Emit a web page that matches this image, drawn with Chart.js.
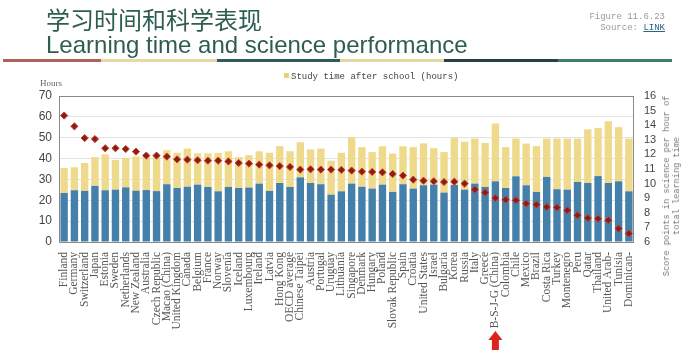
<!DOCTYPE html>
<html>
<head>
<meta charset="utf-8">
<script src="https://cdn.jsdelivr.net/npm/chart.js@4.4.1/dist/chart.umd.min.js"></script>
<style>
  html, body { margin:0; padding:0; background:#ffffff; }
  #wrap { position:relative; width:700px; height:357px; overflow:hidden; }
  #c { position:absolute; left:0; top:0; }
  .abs { position:absolute; white-space:nowrap; }
  #cn { left:46px; top:7px; font:24px/24px "Noto Sans CJK SC", sans-serif; color:#2f5d52; }
  #en { left:46px; top:33px; font:24px/24px "Liberation Sans", Arial, sans-serif; color:#2f5d52; }
  #fig { right:35px; top:12px; font:9px/11px "Liberation Mono", monospace; color:#9a9a9a; text-align:right; }
  #fig .lk { color:#2b6584; text-decoration:underline; }
  #rule { left:3px; top:59px; width:669px; height:3px; display:flex; }
  #rule span { display:block; height:3px; }
  #hours { left:40px; top:78px; font:9px/10px "Liberation Serif", serif; color:#666; }
  #leg { left:284px; top:72px; font:9px/11px "Liberation Mono", monospace; color:#444; }
  #leg i { display:inline-block; width:5px; height:5px; background:#e9d27a; margin-right:2px; vertical-align:1px; }
  #rtitle { left:672px; top:186px; width:0; height:0; }
  #rtitle div { position:absolute; left:0; top:0; transform:translate(-50%,-50%) rotate(-90deg); font:8.6px/10px "Liberation Mono", monospace; color:#777; text-align:center; white-space:nowrap; }
</style>
</head>
<body>
<div id="wrap">
  <canvas id="c" width="700" height="357"></canvas>
  <div class="abs" id="cn">学习时间和科学表现</div>
  <div class="abs" id="en">Learning time and science performance</div>
  <div class="abs" id="fig">Figure 11.6.23<br>Source: <span class="lk">LINK</span></div>
  <div class="abs" id="rule">
    <span style="width:98px;background:#b0615a"></span>
    <span style="width:116px;background:#e6d9a6"></span>
    <span style="width:123px;background:#2f5b5c"></span>
    <span style="width:104px;background:#e4d7a2"></span>
    <span style="width:114px;background:#263f48"></span>
    <span style="width:114px;background:#3f7d6c"></span>
  </div>
  <div class="abs" id="hours">Hours</div>
  <div class="abs" id="leg"><i></i>Study time after school (hours)</div>
  <div class="abs" id="rtitle"><div>Score points in science per hour of<br>total learning time</div></div>
</div>
<script>
const countries = ["Finland","Germany","Switzerland","Japan","Estonia","Sweden","Netherlands","New Zealand","Australia","Czech Republic","Macao (China)","United Kingdom","Canada","Belgium","France","Norway","Slovenia","Iceland","Luxembourg","Ireland","Latvia","Hong Kong","OECD average","Chinese Taipei","Austria","Portugal","Uruguay","Lithuania","Singapore","Denmark","Hungary","Poland","Slovak Republic","Spain","Croatia","United States","Israel","Bulgaria","Korea","Russia","Italy","Greece","B-S-J-G (China)","Colombia","Chile","Mexico","Brazil","Costa Rica","Turkey","Montenegro","Peru","Qatar","Thailand","United Arab-","Tunisia","Dominican-"];

// hours of learning at school (blue part of each bar)
const schoolTime = [23.5,24.8,24.5,26.9,24.8,25.1,26.2,24.6,24.9,24.4,27.7,25.9,26.5,27.5,26.4,24.3,26.4,25.9,26.1,28.0,24.5,28.3,26.4,31.0,28.3,27.7,22.7,24.3,28.0,26.5,25.6,27.5,24.0,27.7,25.6,27.2,27.5,23.7,27.3,25.1,28.0,26.4,29.1,25.9,31.5,27.2,24.0,31.2,25.3,25.1,28.8,28.3,31.6,28.3,29.1,24.3];

// study time after school (yellow part of each bar)
const afterSchool = [12.0,11.0,13.4,13.8,17.2,14.2,14.1,16.4,16.1,16.8,16.3,16.9,18.3,15.0,16.1,18.4,17.1,14.8,15.5,15.5,18.3,17.7,17.1,16.8,16.1,17.1,16.3,18.5,22.3,19.0,17.5,18.4,18.4,18.2,19.9,20.1,17.5,19.4,22.6,23.0,21.6,21.1,27.7,19.6,18.1,20.0,22.0,18.4,24.3,24.5,20.8,25.7,23.1,29.6,26.0,25.3];

// score points in science per hour of total learning time (right axis)
const scorePerHour = [14.66,13.92,13.12,13.05,12.42,12.42,12.37,12.19,11.92,11.92,11.85,11.66,11.64,11.60,11.57,11.57,11.52,11.41,11.37,11.30,11.25,11.20,11.14,10.96,10.98,10.96,10.96,10.94,10.89,10.82,10.80,10.77,10.66,10.55,10.27,10.20,10.16,10.11,10.13,10.00,9.59,9.38,9.01,8.90,8.86,8.63,8.56,8.40,8.36,8.17,7.83,7.64,7.60,7.49,6.92,6.58];

const leftTicks = [0,10,20,30,40,50,60,70];
const rightTicks = [6,7,8,9,10,11,12,13,14,15,16];
const highlighted = "B-S-J-G (China)";

const framePlugin = {
  id: 'frame',
  afterDatasetsDraw(chart) {
    const a = chart.chartArea, c = chart.ctx;
    c.save();
    c.strokeStyle = '#8a8a8a';
    c.lineWidth = 1;
    c.strokeRect(Math.round(a.left)+0.5, Math.round(a.top)+0.5, Math.round(a.right-a.left)-1, Math.round(a.bottom-a.top));
    c.restore();
  },
  afterDraw(chart) {
    const c = chart.ctx;
    const idx = countries.indexOf(highlighted);
    const x = chart.scales.x.getPixelForValue(idx);
    c.save();
    c.fillStyle = '#d9231f';
    c.beginPath();
    c.moveTo(x, 331);
    c.lineTo(x+7, 340);
    c.lineTo(x+3.5, 340);
    c.lineTo(x+3.5, 350);
    c.lineTo(x-3.5, 350);
    c.lineTo(x-3.5, 340);
    c.lineTo(x-7, 340);
    c.closePath();
    c.fill();
    c.restore();
  }
};

new Chart(document.getElementById('c'), {
  data: {
    labels: countries,
    datasets: [
      {
        type: 'line',
        label: 'Score points in science per hour of total learning time',
        data: scorePerHour,
        yAxisID: 'y2',
        showLine: false,
        pointStyle: 'rectRot',
        pointRadius: 3.6,
        pointBackgroundColor: '#8e1b1b',
        pointBorderColor: '#c4452b',
        pointBorderWidth: 1,
        order: 0
      },
      {
        type: 'bar',
        label: 'Learning time at school (hours)',
        data: schoolTime,
        backgroundColor: '#4480aa',
        stack: 's',
        yAxisID: 'y',
        barPercentage: 0.72,
        categoryPercentage: 1,
        order: 1
      },
      {
        type: 'bar',
        label: 'Study time after school (hours)',
        data: afterSchool,
        backgroundColor: '#efda8c',
        stack: 's',
        yAxisID: 'y',
        barPercentage: 0.72,
        categoryPercentage: 1,
        order: 1
      }
    ]
  },
  options: {
    responsive: false,
    animation: false,
    layout: { padding: { top: 96, left: 0, right: 0, bottom: 0 } },
    plugins: { legend: { display: false }, tooltip: { enabled: false } },
    scales: {
      x: {
        stacked: true,
        grid: { display: false },
        border: { display: false },
        ticks: { autoSkip: false, minRotation: 90, maxRotation: 90, padding: 2,
                 font: { family: 'Liberation Serif', size: 11.5 }, color: '#555' },
        afterFit(s) { s.height = 115; }
      },
      y: {
        stacked: true,
        position: 'left',
        min: leftTicks[0], max: leftTicks[leftTicks.length-1],
        afterBuildTicks(s) { s.ticks = leftTicks.map(v => ({ value: v })); },
        ticks: { autoSkip: false, padding: 7, font: { family: 'Liberation Sans', size: 12 }, color: '#444' },
        grid: { color: '#e2e2e2', drawTicks: false },
        border: { display: false },
        afterFit(s) { s.width = 59; }
      },
      y2: {
        position: 'right',
        min: rightTicks[0], max: rightTicks[rightTicks.length-1],
        afterBuildTicks(s) { s.ticks = rightTicks.map(v => ({ value: v })); },
        ticks: { autoSkip: false, padding: 10, font: { family: 'Liberation Sans', size: 11 }, color: '#444' },
        grid: { drawOnChartArea: false, drawTicks: false },
        border: { display: false },
        afterFit(s) { s.width = 66; }
      }
    }
  },
  plugins: [framePlugin]
});
</script>
</body>
</html>
